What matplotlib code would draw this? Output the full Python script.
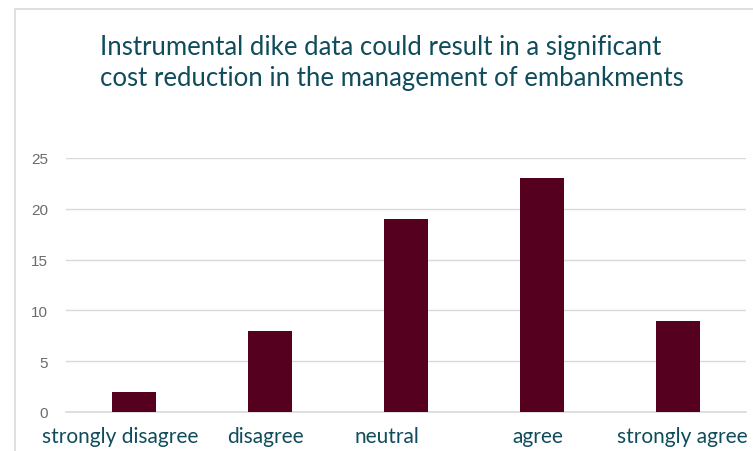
import matplotlib
matplotlib.use("Agg")
import matplotlib.pyplot as plt
from matplotlib.patches import Rectangle
from matplotlib.transforms import ScaledTranslation

categories = ["strongly disagree", "disagree", "neutral", "agree", "strongly agree"]
counts = [2, 8, 19, 23, 9]
yticks = [0, 5, 10, 15, 20, 25]
title = "Instrumental dike data could result in a significant\ncost reduction in the management of embankments"

bar_color = "#56001f"
text_teal = "#0f4c5c"
grid_color = "#d9d9d9"

fig = plt.figure(figsize=(7.53, 4.52), dpi=100)
fig.patch.set_facecolor("white")

# outer chart frame (only top and left edges fall inside the canvas)
fig.patches.append(Rectangle((15 / 753, -0.1), 1.2, 1 - 10 / 452 + 0.1,
                             transform=fig.transFigure, fill=False,
                             edgecolor="#d9d9d9", linewidth=1.2))

ax = fig.add_axes([66 / 753, 1 - 413 / 452, (746 - 66) / 753, (413 - 159) / 452])
x = range(len(categories))
ax.bar(x, counts, width=0.32, color=bar_color, zorder=3)
ax.set_xlim(-0.5, len(categories) - 0.5)
ax.set_ylim(0, 25)
ax.set_yticks(yticks)
ax.yaxis.grid(True, color=grid_color, linewidth=1.0, zorder=0)
ax.set_axisbelow(True)
for s in ["top", "right", "left"]:
    ax.spines[s].set_visible(False)
ax.spines["bottom"].set_color(grid_color)
ax.spines["bottom"].set_linewidth(1.2)
ax.tick_params(axis="y", length=0, pad=13, labelsize=11, labelcolor="#6b6b6b")
ax.tick_params(axis="x", length=0, pad=10)
ax.set_xticks(list(x))
ax.set_xticklabels(categories, fontsize=15, color=text_teal, family="Lato")
for lbl in ax.get_yticklabels():
    lbl.set_family("Liberation Sans")

# small horizontal nudges of the category labels (in points)
nudges = [-10, -3, -14, -3, 3]
for lbl, dx in zip(ax.get_xticklabels(), nudges):
    lbl.set_transform(lbl.get_transform() + ScaledTranslation(dx / 72, 0, fig.dpi_scale_trans))

fig.text(100 / 753, 1 - 35 / 452, title, ha="left", va="top", fontsize=18.5,
         color=text_teal, family="Lato", linespacing=1.32)

fig.savefig("out.png", dpi=100)
